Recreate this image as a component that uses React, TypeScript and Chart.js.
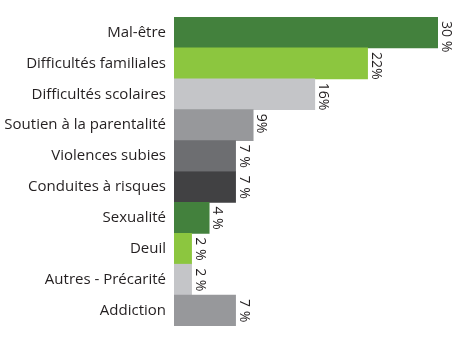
import React, { useEffect, useRef } from "react";
import { Chart, registerables } from "chart.js";

Chart.register(...registerables);

const categories = [
  "Mal-être",
  "Difficultés familiales",
  "Difficultés scolaires",
  "Soutien à la parentalité",
  "Violences subies",
  "Conduites à risques",
  "Sexualité",
  "Deuil",
  "Autres - Précarité",
  "Addiction",
];

const shares = [30, 22, 16, 9, 7, 7, 4, 2, 2, 7];

const shareLabels = ["30 %", "22%", "16%", "9%", "7 %", "7 %", "4 %", "2 %", "2 %", "7 %"];

const barColors = [
  "#43813D",
  "#8CC63F",
  "#C4C5C8",
  "#97989B",
  "#6D6E71",
  "#414143",
  "#43813D",
  "#8CC63F",
  "#C4C5C8",
  "#97989B",
];

const FONT = "'Open Sans', 'Noto Sans', sans-serif";

// Writes each percentage vertically, just past the end of its bar.
const verticalValueLabels = {
  id: "verticalValueLabels",
  afterDatasetsDraw(chart: any) {
    const ctx = chart.ctx;
    const meta = chart.getDatasetMeta(0);
    ctx.save();
    ctx.font = `14px ${FONT}`;
    ctx.fillStyle = "#231F20";
    ctx.textAlign = "left";
    ctx.textBaseline = "bottom";
    meta.data.forEach((bar: any, i: number) => {
      const { x, y, height } = bar.getProps(["x", "y", "height"], true);
      const top = y - height / 2;
      ctx.save();
      ctx.translate(x + 1, top + 4);
      ctx.rotate(Math.PI / 2);
      ctx.fillText(shareLabels[i], 0, 0);
      ctx.restore();
    });
    ctx.restore();
  },
};

export default function App() {
  const canvasRef = useRef<HTMLCanvasElement | null>(null);

  useEffect(() => {
    if (!canvasRef.current) return;
    const chart = new Chart(canvasRef.current, {
      type: "bar",
      data: {
        labels: categories,
        datasets: [
          {
            data: shares,
            backgroundColor: barColors,
            borderWidth: 0,
            barPercentage: 1,
            categoryPercentage: 1,
          },
        ],
      },
      options: {
        indexAxis: "y",
        animation: false,
        responsive: false,
        maintainAspectRatio: false,
        layout: { padding: { top: 7, right: 16, bottom: 0, left: 0 } },
        plugins: {
          legend: { display: false },
          tooltip: { enabled: false },
        },
        scales: {
          x: {
            display: false,
            min: 0,
            max: 30,
          },
          y: {
            grid: { display: false, drawTicks: false },
            border: { display: false },
            ticks: {
              color: "#231F20",
              font: { family: FONT, size: 15 },
              padding: 8,
            },
            afterFit(scale: any) {
              scale.width = 174;
            },
          },
        },
      },
      plugins: [verticalValueLabels],
    });
    return () => chart.destroy();
  }, []);

  return (
    <div style={{ position: "fixed", left: 0, top: 0, width: 454, height: 343, background: "#fff" }}>
      <canvas ref={canvasRef} width={454} height={343} />
    </div>
  );
}
